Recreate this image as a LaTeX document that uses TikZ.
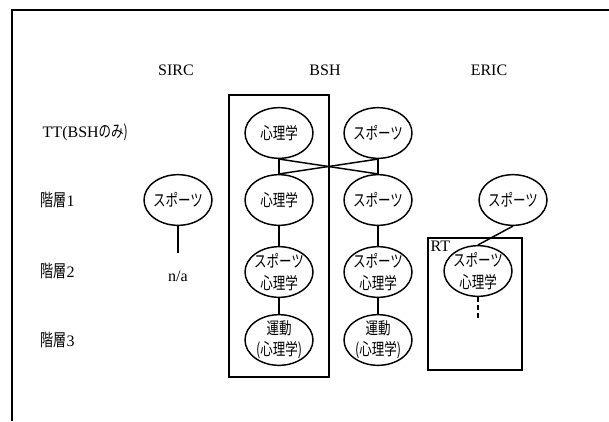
\documentclass[tikz,border=0pt]{standalone}
\usepackage{fontspec}
\setmainfont{Liberation Serif}
\newfontfamily\jp[FakeStretch=0.75]{Noto Sans CJK JP}
\usetikzlibrary{shapes.geometric,positioning}

\begin{document}
\begin{tikzpicture}[
    x=0.75pt, y=-0.75pt,
    topic/.style={draw, ellipse, line width=1.1pt, minimum width=51pt, minimum height=38pt, inner sep=-1.5pt, align=center, font=\jp\fontsize{12.5}{16}\selectfont},
    head/.style={font=\fontsize{12}{14}\selectfont},
    rowlab/.style={anchor=west, font=\fontsize{12}{14}\selectfont},
    group/.style={draw, line width=1.1pt},
    link/.style={line width=1.1pt}
]
\useasboundingbox (0,0) rectangle (609,421);
\draw[line width=1.3pt] (12,421) -- (12,10) -- (609,10);

% column heads
\node[head] (hsirc) at (176,70) {SIRC};
\node[head] (hbsh) at (325,70) {BSH};
\node[head] (heric) at (489,70) {ERIC};

% row labels
\node[rowlab] (lvtt) at (38,132) {TT(BSH{\jp\fontsize{12.5}{14}\selectfont のみ)}};
\node[rowlab] (lv1) at (36,200) {{\jp\fontsize{13}{14}\selectfont 階層}1};
\node[rowlab] (lv2) at (36,271) {{\jp\fontsize{13}{14}\selectfont 階層}2};
\node[rowlab] (lv3) at (36,340) {{\jp\fontsize{13}{14}\selectfont 階層}3};

% BSH
\draw[group] (229,95) rectangle (329,377);
\node[topic] (ttpsy) at (279,133) {心理学};
\node[topic] (ttspo) at (378,133) {スポーツ};
\node[topic] (bpsy1) at (279,200) {心理学};
\node[topic] (bspo1) at (378,200) {スポーツ};
\node[topic] (bpsy2) at (279,272) {スポーツ\\心理学};
\node[topic] (bspo2) at (378,272) {スポーツ\\心理学};
\node[topic] (bpsy3) at (279,340) {運動\\(心理学)};
\node[topic] (bspo3) at (378,340) {運動\\(心理学)};

\draw[link] (ttpsy.south) -- (bpsy1.north);
\draw[link] (ttpsy.south) -- (bspo1.north);
\draw[link] (ttspo.south) -- (bspo1.north);
\draw[link] (ttspo.south) -- (bpsy1.north);
\draw[link] (bpsy1) -- (bpsy2);
\draw[link] (bpsy2) -- (bpsy3);
\draw[link] (bspo1) -- (bspo2);
\draw[link] (bspo2) -- (bspo3);

% SIRC
\node[topic] (sspo1) at (178,200) {スポーツ};
\coordinate (send) at (178,253);
\node[head] (sna) at (178,276) {n/a};
\draw[link] (sspo1.south) -- (send);

% ERIC
\node[topic] (espo1) at (513,200) {スポーツ};
\draw[group] (428,238) rectangle (522,370);
\node[head, anchor=north west, inner sep=1pt] (rtlab) at (429,239) {RT};
\node[topic] (ert2) at (478,271) {スポーツ\\心理学};
\coordinate (rtend) at (478,318);
\draw[link] (espo1.south) -- (ert2.north);
\draw[link, dash pattern=on 4pt off 2pt] (ert2.south) -- (rtend);
\end{tikzpicture}
\end{document}
